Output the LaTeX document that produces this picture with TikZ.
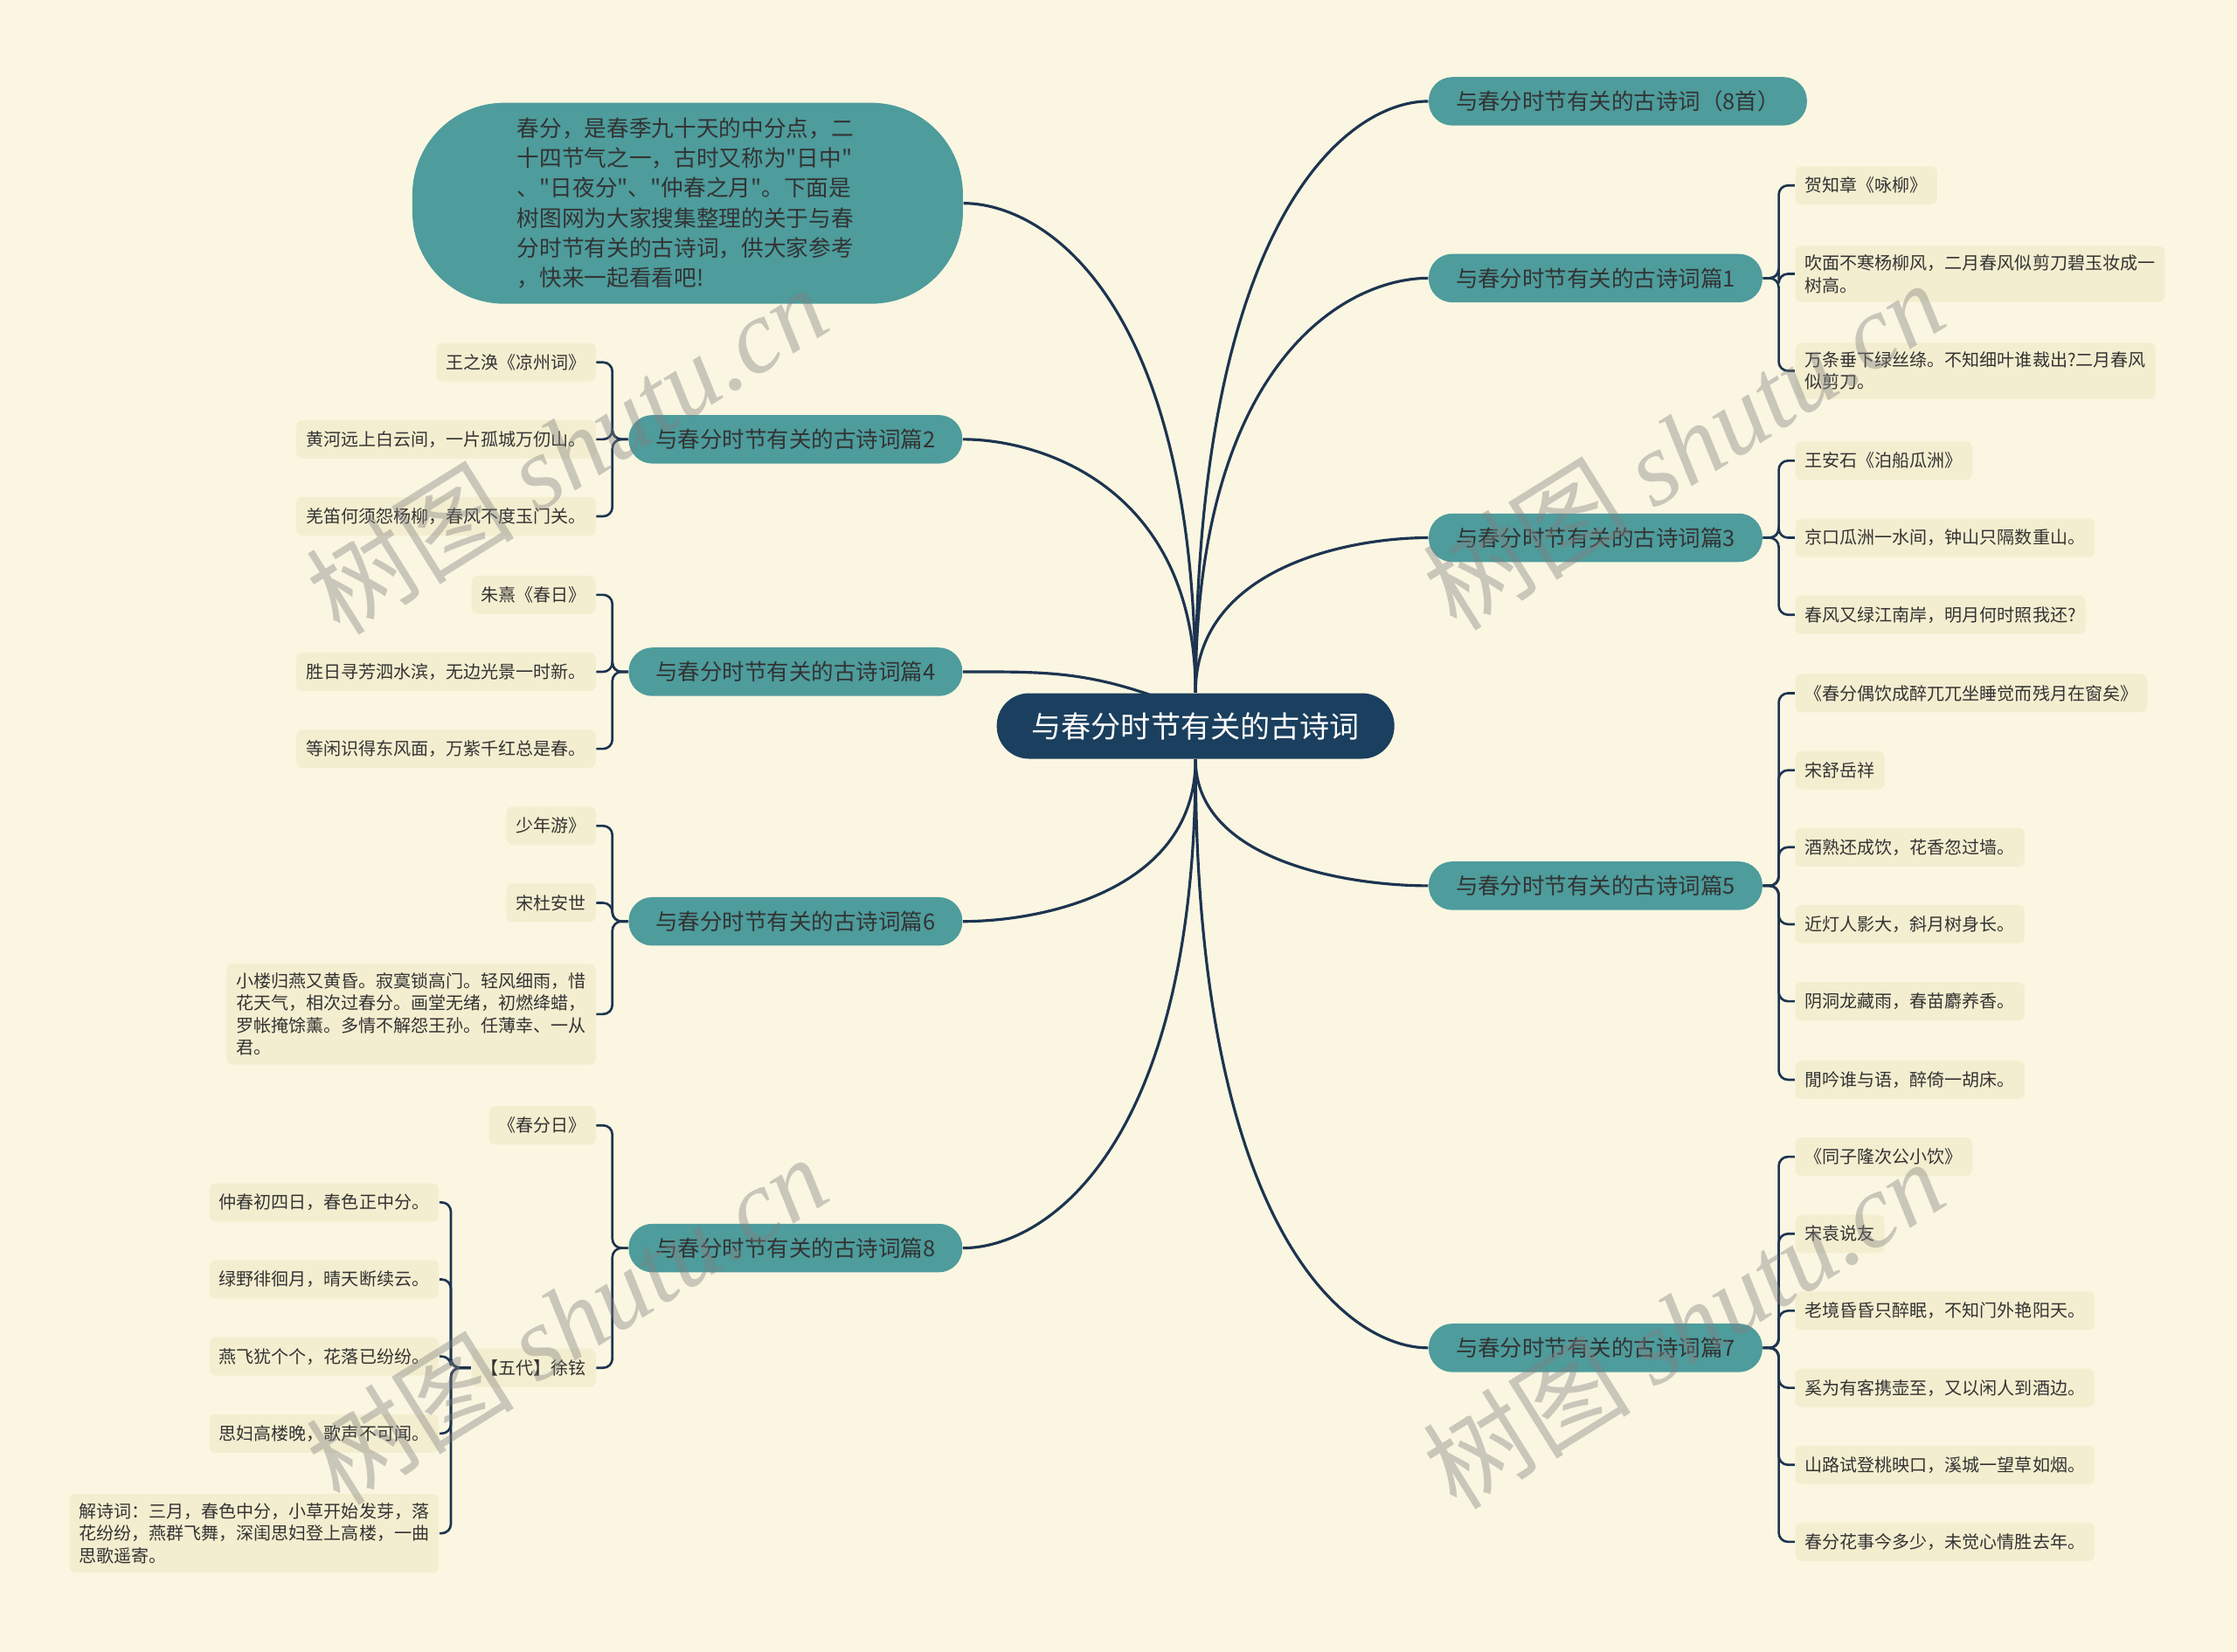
\documentclass[tikz,border=0pt]{standalone}
\usepackage{fontspec}
\setmainfont{Noto Sans CJK SC}[Ligatures=TeXOff]
\newfontfamily\wmserif{Liberation Serif}
\usepackage{tikz}
\usetikzlibrary{calc,backgrounds}

\definecolor{paper}{HTML}{FAF6E1}
\definecolor{leafbg}{HTML}{F4EED0}
\definecolor{topicteal}{HTML}{4E9C9C}
\definecolor{rootnavy}{HTML}{1B3F5E}
\definecolor{linknavy}{HTML}{1D3450}
\definecolor{ink}{HTML}{333333}

\begin{document}
\begin{tikzpicture}[x=0.016327cm, y=0.016327cm, every node/.style={font=\fontsize{5.7pt}{7.3pt}\selectfont, text=ink},
  rootbox/.style={fill=rootnavy, rounded corners=0.37cm, minimum height=0.75cm, inner xsep=0.4cm, font=\fontsize{9.7pt}{11pt}\selectfont, text=white},
  topicbox/.style={fill=topicteal, rounded corners=0.27cm, minimum height=0.555cm, inner xsep=0.31cm, font=\fontsize{7.25pt}{9pt}\selectfont},
  introbox/.style={fill=topicteal, rounded corners=1.05cm, minimum width=6.3cm, minimum height=2.3cm, text width=3.9cm, align=left, font=\fontsize{7.3pt}{9.75pt}\selectfont},
  leafbox/.style={fill=leafbg, rounded corners=2pt, minimum height=0.44cm, inner xsep=0.11cm, inner ysep=0.1cm, align=left},
  mainlink/.style={draw=linknavy, line width=0.9pt, in distance=0.93cm},
  sublink/.style={draw=linknavy, line width=0.75pt, rounded corners=3pt},
  wmark/.style={rotate=32, text=black!50, text opacity=0.4, font=\fontsize{34pt}{36pt}\selectfont}]
\useasboundingbox (0,0) rectangle (1568,-1158);

% centre, intro and topics
\node[rootbox] (root) at (838,-509) {与春分时节有关的古诗词};
\node[introbox] (intro) at (482,-142.5) {春分，是春季九十天的中分点，二\\十四节气之一，古时又称为"日中"\\、"日夜分"、"仲春之月"。下面是\\树图网为大家搜集整理的关于与春\\分时节有关的古诗词，供大家参考\\，快来一起看看吧!};
\node[topicbox, anchor=west] (t0) at (1001,-71) {与春分时节有关的古诗词（8首）};
\node[topicbox, anchor=west] (t1) at (1001,-195) {与春分时节有关的古诗词篇1};
\node[topicbox, anchor=west] (t3) at (1001,-377) {与春分时节有关的古诗词篇3};
\node[topicbox, anchor=west] (t5) at (1001,-621) {与春分时节有关的古诗词篇5};
\node[topicbox, anchor=west] (t7) at (1001,-945) {与春分时节有关的古诗词篇7};
\node[topicbox, anchor=east] (t2) at (675,-308) {与春分时节有关的古诗词篇2};
\node[topicbox, anchor=east] (t4) at (675,-471) {与春分时节有关的古诗词篇4};
\node[topicbox, anchor=east] (t6) at (675,-646) {与春分时节有关的古诗词篇6};
\node[topicbox, anchor=east] (t8) at (675,-875) {与春分时节有关的古诗词篇8};

% right side leaves
\node[leafbox, anchor=west] (t1a) at (1258,-130) {贺知章《咏柳》};
\node[leafbox, anchor=west] (t1b) at (1258,-192) {吹面不寒杨柳风，二月春风似剪刀碧玉妆成一\\树高。};
\node[leafbox, anchor=west] (t1c) at (1258,-260) {万条垂下绿丝绦。不知细叶谁裁出?二月春风\\似剪刀。};
\node[leafbox, anchor=west] (t3a) at (1258,-323) {王安石《泊船瓜洲》};
\node[leafbox, anchor=west] (t3b) at (1258,-377) {京口瓜洲一水间，钟山只隔数重山。};
\node[leafbox, anchor=west] (t3c) at (1258,-431) {春风又绿江南岸，明月何时照我还?};
\node[leafbox, anchor=west] (t5a) at (1258,-486) {《春分偶饮成醉兀兀坐睡觉而残月在窗矣》};
\node[leafbox, anchor=west] (t5b) at (1258,-540) {宋舒岳祥};
\node[leafbox, anchor=west] (t5c) at (1258,-594) {酒熟还成饮，花香忽过墙。};
\node[leafbox, anchor=west] (t5d) at (1258,-648) {近灯人影大，斜月树身长。};
\node[leafbox, anchor=west] (t5e) at (1258,-702) {阴洞龙藏雨，春苗麝养香。};
\node[leafbox, anchor=west] (t5f) at (1258,-757) {閒吟谁与语，醉倚一胡床。};
\node[leafbox, anchor=west] (t7a) at (1258,-811) {《同子隆次公小饮》};
\node[leafbox, anchor=west] (t7b) at (1258,-865) {宋袁说友};
\node[leafbox, anchor=west] (t7c) at (1258,-919) {老境昏昏只醉眠，不知门外艳阳天。};
\node[leafbox, anchor=west] (t7d) at (1258,-973) {奚为有客携壶至，又以闲人到酒边。};
\node[leafbox, anchor=west] (t7e) at (1258,-1027) {山路试登桃映口，溪城一望草如烟。};
\node[leafbox, anchor=west] (t7f) at (1258,-1081) {春分花事今多少，未觉心情胜去年。};

% left side leaves
\node[leafbox, anchor=east] (t2a) at (418,-254) {王之涣《凉州词》};
\node[leafbox, anchor=east] (t2b) at (418,-308) {黄河远上白云间，一片孤城万仞山。};
\node[leafbox, anchor=east] (t2c) at (418,-362) {羌笛何须怨杨柳，春风不度玉门关。};
\node[leafbox, anchor=east] (t4a) at (418,-417) {朱熹《春日》};
\node[leafbox, anchor=east] (t4b) at (418,-471) {胜日寻芳泗水滨，无边光景一时新。};
\node[leafbox, anchor=east] (t4c) at (418,-525) {等闲识得东风面，万紫千红总是春。};
\node[leafbox, anchor=east] (t6a) at (418,-579) {少年游》};
\node[leafbox, anchor=east] (t6b) at (418,-633) {宋杜安世};
\node[leafbox, anchor=east] (t6c) at (418,-711) {小楼归燕又黄昏。寂寞锁高门。轻风细雨，惜\\花天气，相次过春分。画堂无绪，初燃绛蜡，\\罗帐掩馀薰。多情不解怨王孙。任薄幸、一从\\君。};
\node[leafbox, anchor=east] (t8a) at (418,-789) {《春分日》};
\node[leafbox, anchor=east] (t8b) at (418,-959) {【五代】徐铉};
\node[leafbox, anchor=east] (x1) at (308,-843) {仲春初四日，春色正中分。};
\node[leafbox, anchor=east] (x2) at (308,-897) {绿野徘徊月，晴天断续云。};
\node[leafbox, anchor=east] (x3) at (308,-951) {燕飞犹个个，花落已纷纷。};
\node[leafbox, anchor=east] (x4) at (308,-1005) {思妇高楼晚，歌声不可闻。};
\node[leafbox, anchor=east] (x5) at (308,-1075) {解诗词：三月，春色中分，小草开始发芽，落\\花纷纷，燕群飞舞，深闺思妇登上高楼，一曲\\思歌遥寄。};

\begin{scope}[on background layer]
\fill[paper] (0,0) rectangle (1568,-1158);
% centre to topics
\draw[mainlink] (root.north) to[out=90, in=180, out distance=5.42cm] (t0.west);
\draw[mainlink] (root.north) to[out=90, in=180, out distance=3.8cm] (t1.west);
\draw[mainlink] (root.north) to[out=90, in=180, out distance=1.42cm] (t3.west);
\draw[mainlink] (root.north) to[out=90, in=0, out distance=4.49cm] (intro.east);
\draw[mainlink] (root.north) to[out=90, in=0, out distance=2.32cm] (t2.east);
\draw[mainlink] (t4.east) to[out=0, in=160] ($(root.north)+(-25,-4)$);
\draw[mainlink] (root.south) to[out=-90, in=180, out distance=1.16cm] (t5.west);
\draw[mainlink] (root.south) to[out=-90, in=180, out distance=5.39cm] (t7.west);
\draw[mainlink] (root.south) to[out=-90, in=0, out distance=1.49cm] (t6.east);
\draw[mainlink] (root.south) to[out=-90, in=0, out distance=4.47cm] (t8.east);
% topics to leaves
\foreach \leaf in {t1a,t1b,t1c} \draw[sublink] (t1.east) -- ++(11,0) |- (\leaf.west);
\foreach \leaf in {t3a,t3b,t3c} \draw[sublink] (t3.east) -- ++(11,0) |- (\leaf.west);
\foreach \leaf in {t5a,t5b,t5c,t5d,t5e,t5f} \draw[sublink] (t5.east) -- ++(11,0) |- (\leaf.west);
\foreach \leaf in {t7a,t7b,t7c,t7d,t7e,t7f} \draw[sublink] (t7.east) -- ++(11,0) |- (\leaf.west);
\foreach \leaf in {t2a,t2b,t2c} \draw[sublink] (t2.west) -- ++(-11,0) |- (\leaf.east);
\foreach \leaf in {t4a,t4b,t4c} \draw[sublink] (t4.west) -- ++(-11,0) |- (\leaf.east);
\foreach \leaf in {t6a,t6b,t6c} \draw[sublink] (t6.west) -- ++(-11,0) |- (\leaf.east);
\foreach \leaf in {t8a,t8b} \draw[sublink] (t8.west) -- ++(-11,0) |- (\leaf.east);
\foreach \leaf in {x1,x2,x3,x4,x5} \draw[sublink] (t8b.west) -- ++(-14,0) |- (\leaf.east);
\end{scope}

% watermarks
\node[wmark] (wm1) at (397,-315) {树图 {\wmserif\itshape shutu.cn}};
\node[wmark] (wm2) at (1180,-312) {树图 {\wmserif\itshape shutu.cn}};
\node[wmark] (wm3) at (397,-925) {树图 {\wmserif\itshape shutu.cn}};
\node[wmark] (wm4) at (1180,-928) {树图 {\wmserif\itshape shutu.cn}};
\end{tikzpicture}
\end{document}
